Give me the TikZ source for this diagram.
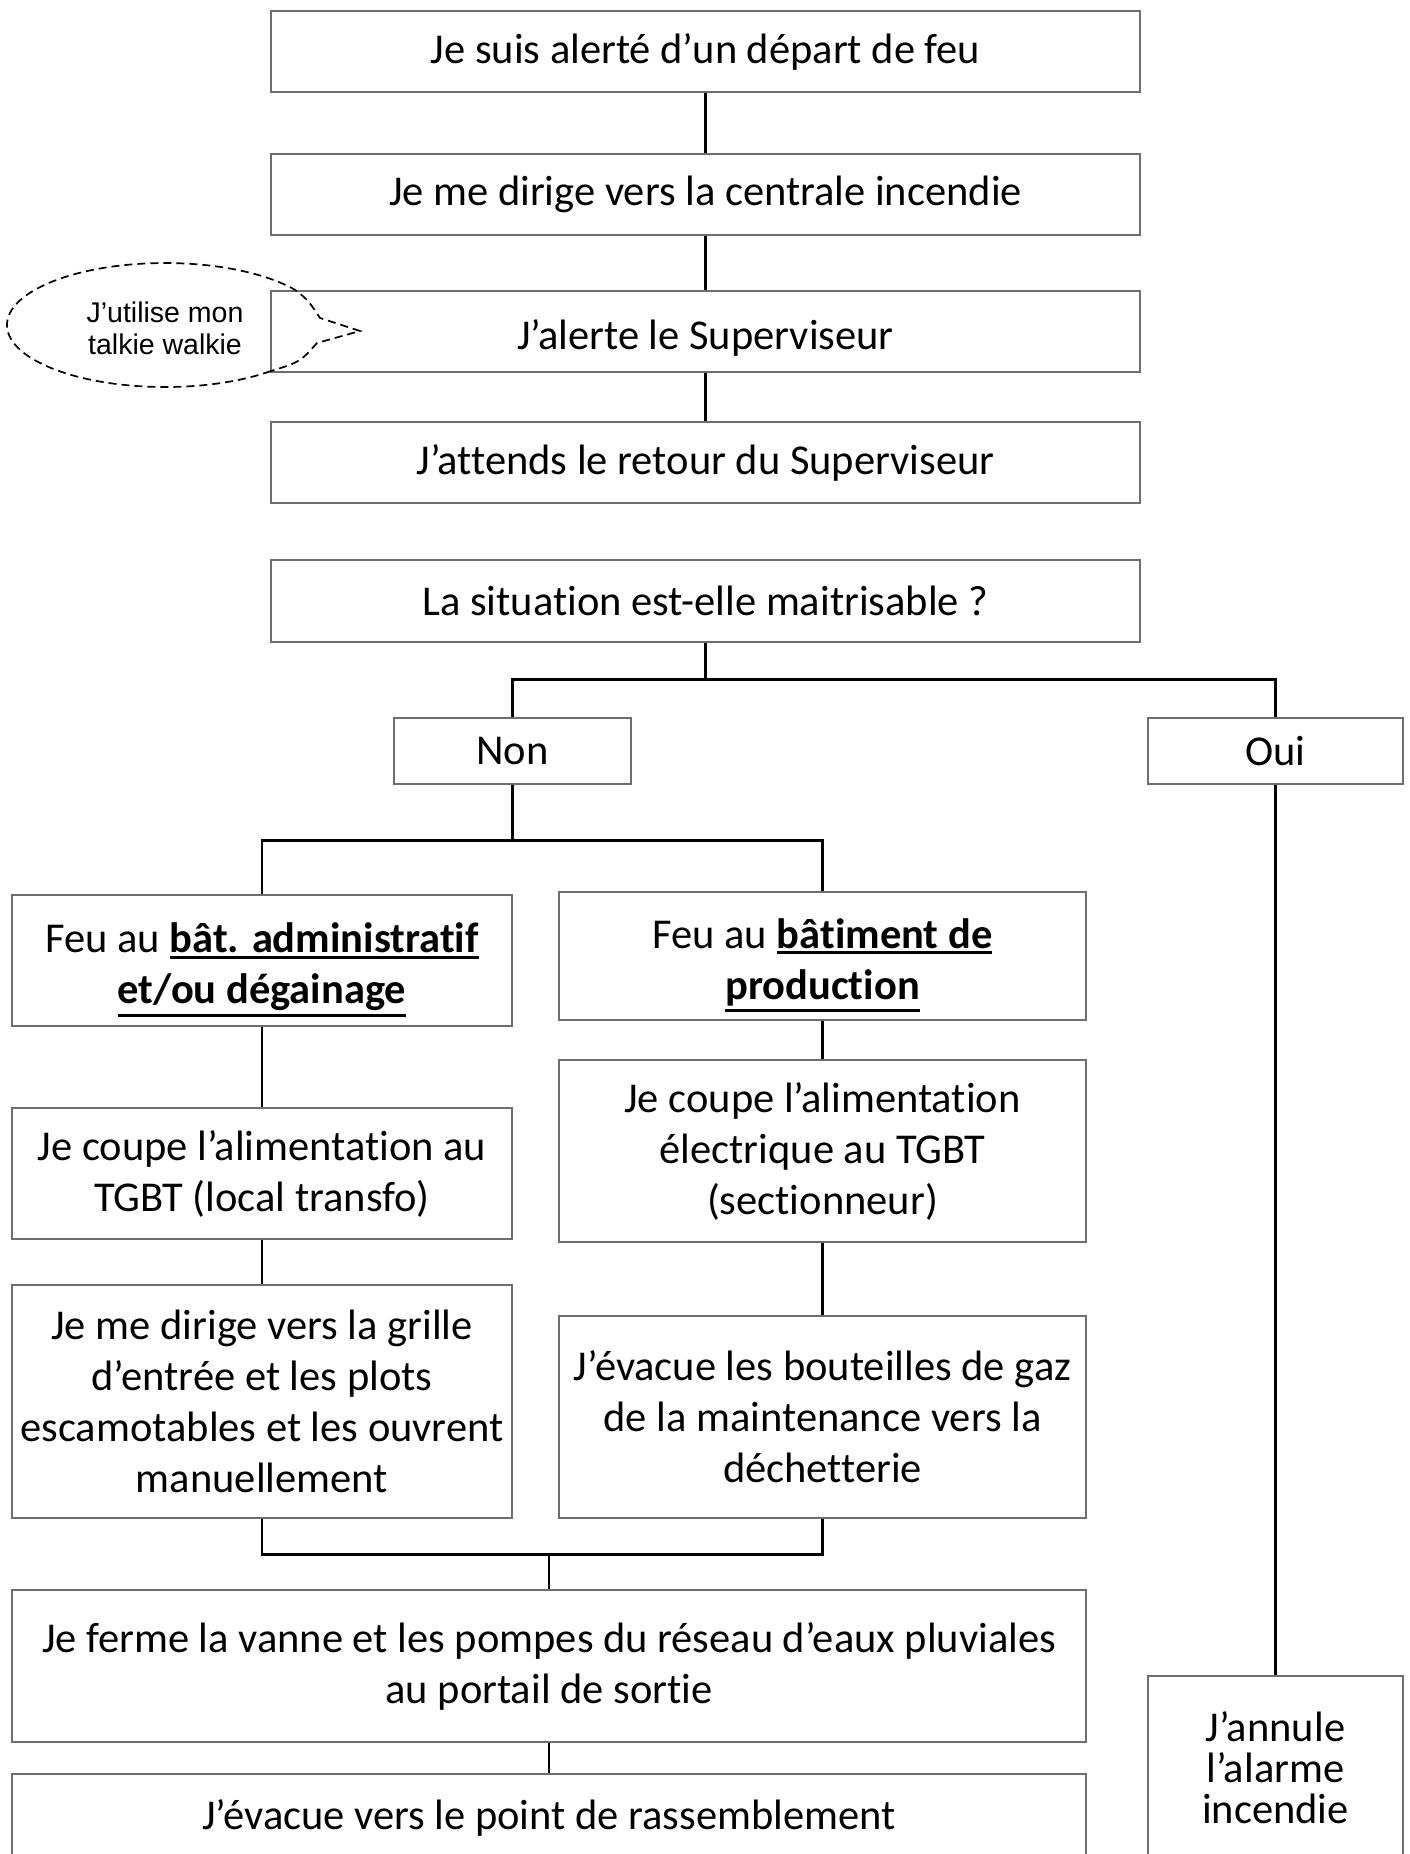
\documentclass[tikz,border=0pt]{standalone}
\usepackage{fontspec}
\setmainfont{Carlito}[Ligatures=NoCommon]
\newfontfamily\arialf{Liberation Sans}
\definecolor{boxgray}{RGB}{110,110,110}
% bold underlined text; the rule does not add to the line depth
\newcommand\bul[1]{\setbox0\hbox{\textbf{#1}}\leavevmode\rlap{\smash{\vrule width \wd0 height \dimexpr-\dp0-3pt\relax depth \dimexpr\dp0+6pt\relax}}\box0}
% first line pushed down: shifts the whole text block down by #1
\newcommand\dn[2]{\setbox1\hbox{#2}\vrule width 0pt height \dimexpr\ht1+2\dimexpr#1\relax\relax\box1}
\begin{document}
\begin{tikzpicture}[x=1pt,y=-1pt,
  box/.style={draw=boxgray, line width=1.3pt, align=center, inner sep=0pt,
    font=\fontsize{42.5}{51}\selectfont},
  tightbox/.style={box, font=\fontsize{42.5}{41}\selectfont},
  link/.style={line width=2.6pt, draw=black},
  bubbleline/.style={line width=1.7pt, dash pattern=on 8pt off 5pt, draw=black},
  bubbletext/.style={align=center, inner sep=0pt, font=\arialf\fontsize{28.5}{32}\selectfont}]
\clip (0,0) rectangle (1409,1854);
\fill[white] (0,0) rectangle (1409,1854);

% main column
\node[box, minimum width=869pt, minimum height=81pt] (b1) at (705.5,51.5) {Je suis alerté d’un départ de feu};
\node[box, minimum width=869pt, minimum height=81pt] (b2) at (705.5,194.5) {Je me dirige vers la centrale incendie};
\node[box, minimum width=869pt, minimum height=81pt] (b3) at (705.5,331.5) {\dn{6pt}{J’alerte le Superviseur}};
\node[box, minimum width=869pt, minimum height=81pt] (b4) at (705.5,462.5) {J’attends le retour du Superviseur};
\node[box, minimum width=869pt, minimum height=82pt] (b5) at (705.5,601) {La situation est-elle maitrisable ?};

% answers
\node[box, minimum width=237pt, minimum height=66pt] (non) at (512.5,751) {Non};
\node[box, minimum width=255pt, minimum height=66pt] (oui) at (1275.5,751) {Oui};

% left column
\node[box, minimum width=500pt, minimum height=131pt] (l1) at (262,960.5) {\dn{6pt}{Feu au \bul{bât. administratif}}\\\bul{et/ou dégainage}};
\node[box, minimum width=500pt, minimum height=131pt] (l2) at (262,1173.5) {Je coupe l’alimentation au\\TGBT (local transfo)};
\node[box, minimum width=500pt, minimum height=233pt] (l3) at (262,1401.5) {Je me dirige vers la grille\\d’entrée et les plots\\escamotables et les ouvrent\\manuellement};

% right column
\node[box, minimum width=527pt, minimum height=128pt] (r1) at (822.5,956) {\dn{6pt}{Feu au \bul{bâtiment de}}\\\bul{production}};
\node[box, minimum width=527pt, minimum height=182pt] (r2) at (822.5,1151) {Je coupe l’alimentation\\électrique au TGBT\\(sectionneur)};
\node[box, minimum width=527pt, minimum height=202pt] (r3) at (822.5,1417) {J’évacue les bouteilles de gaz\\de la maintenance vers la\\déchetterie};

% bottom
\node[box, minimum width=1074pt, minimum height=152pt] (b6) at (549,1666) {Je ferme la vanne et les pompes du réseau d’eaux pluviales\\au portail de sortie};
\node[box, minimum width=1074pt, minimum height=88pt] (b7) at (549,1818) {J’évacue vers le point de rassemblement};
\node[tightbox, minimum width=255pt, minimum height=184pt] (oui2) at (1275.5,1768) {J’annule\\l’alarme\\incendie};

% callout
\node[bubbletext] (bubble) at (165,328) {J’utilise mon\\talkie walkie};
\draw[bubbleline] (270.7,371.1) arc[start angle=48, end angle=325.4, x radius=158, y radius=62]
  .. controls (308,300) .. (320,318) -- (360,331) -- (317,343)
  .. controls (300,362) .. (270.7,371.1);

% connectors
\draw[link] (b1.south) -- (b2.north);
\draw[link] (b2.south) -- (b3.north);
\draw[link] (b3.south) -- (b4.north);
\draw[link] (b5.south) -- ++(0,37) coordinate (j1);
\draw[link] (non.north) |- (j1) -| (oui.north);
\draw[link] (non.south) -- ++(0,56) coordinate (j2);
\draw[link] (l1.north) |- (j2) -| (r1.north);
\draw[link] (l1.south) -- (l2.north);
\draw[link] (l2.south) -- (l3.north);
\draw[link] (r1.south) -- (r2.north);
\draw[link] (r2.south) -- (r3.north);
\path (b6.north) ++(0,-35) coordinate (j3);
\draw[link] (l3.south) |- (j3) -| (r3.south);
\draw[link] (j3) -- (b6.north);
\draw[link] (b6.south) -- (b7.north);
\draw[link] (oui.south) -- (oui2.north);
\end{tikzpicture}
\end{document}
